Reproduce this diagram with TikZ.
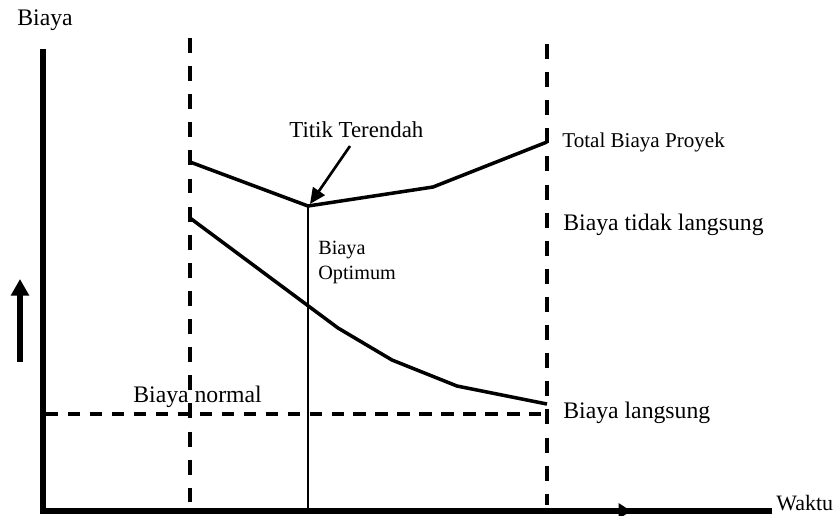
\documentclass[tikz,border=0pt]{standalone}
\usepackage{fontspec}
\setmainfont{Liberation Serif}
\usetikzlibrary{arrows.meta}

\tikzset{
  sumbu/.style = {line width = 3.2pt},
  kurva/.style = {line width = 2pt, line join = miter},
  garisputus/.style = {line width = 2pt, dash pattern = on 8.5pt off 7.5pt},
  garisnormal/.style = {line width = 2pt, dash pattern = on 7pt off 5.5pt},
  label/.style = {font = \fontsize{13.5}{15}\selectfont, inner sep = 0pt},
  labelkecil/.style = {font = \fontsize{11.5}{13}\selectfont, inner sep = 0pt}
}

\begin{document}
\begin{tikzpicture} [x = 0.02cm, y = -0.02cm]
\useasboundingbox (0, 0) rectangle (838, 515);
% sumbu
\coordinate (o) at (43, 511);
\coordinate (ytop) at (43, 52);
\coordinate (xmid) at (631, 511);
\coordinate (xend) at (772, 511);
\draw[sumbu, line cap = rect] (ytop) -- (o) -- (xmid);
\draw[sumbu, -{Triangle[length = 7pt, width = 8.5pt]}] (o) -- (xmid);
\draw[sumbu] (xmid) -- (xend);
\node[label, anchor = west, font = \fontsize{12.5}{14}\selectfont] (waktu) at (776, 503){Waktu};
\node[label, anchor = west] (biaya) at (17, 20){Biaya};
\coordinate (pa) at (20, 362);
\coordinate (pb) at (20, 279);
\draw[line width = 3.4pt, -{Triangle[length = 9.5pt, width = 10pt]}] (pa) -- (pb);
% batas waktu
\coordinate (ka1) at (190, 38);
\coordinate (ka2) at (190, 502);
\coordinate (kb1) at (547, 44);
\coordinate (kb2) at (547, 505);
\draw[garisputus] (ka1) -- (ka2);
\draw[garisputus] (kb1) -- (kb2);
% biaya normal
\coordinate (n1) at (46, 414);
\coordinate (n2) at (547, 414);
\draw[garisnormal] (n1) -- (n2);
\node[label, anchor = west] (normal) at (133, 397){Biaya normal};
% total biaya proyek
\coordinate (t1) at (190, 162);
\coordinate (opt) at (308, 206);
\coordinate (t3) at (433, 187);
\coordinate (t4) at (547, 142);
\draw[kurva] (t1) -- (opt) -- (t3) -- (t4);
% biaya langsung
\coordinate (l1) at (190, 218);
\coordinate (l2) at (338, 328);
\coordinate (l3) at (392, 360);
\coordinate (l4) at (457, 386);
\coordinate (l5) at (547, 404);
\draw[kurva] (l1) -- (l2) -- (l3) -- (l4) -- (l5);
% biaya optimum
\coordinate (optbawah) at (308, 511);
\draw[line width = 1.5pt] (opt) -- (optbawah);
\node[labelkecil, anchor = west] (bo1) at (318, 250){Biaya};
\node[labelkecil, anchor = west] (bo2) at (318, 275){Optimum};
\node[label, anchor = west, font = \fontsize{13}{15}\selectfont] (terendah) at (289, 130){Titik Terendah};
\coordinate (panah) at (350, 146);
\draw[line width = 1.5pt, -{Triangle[length = 9pt, width = 8pt]}] (panah) -- ([shift = {(2, -2)}] opt);
% label kanan
\node[label, anchor = west, font = \fontsize{12}{14}\selectfont] (total) at (562, 142){Total Biaya Proyek};
\node[label, anchor = west] (tidak) at (563, 225){Biaya tidak langsung};
\node[label, anchor = west] (langsung) at (563, 413){Biaya langsung};
\end{tikzpicture}
\end{document}
